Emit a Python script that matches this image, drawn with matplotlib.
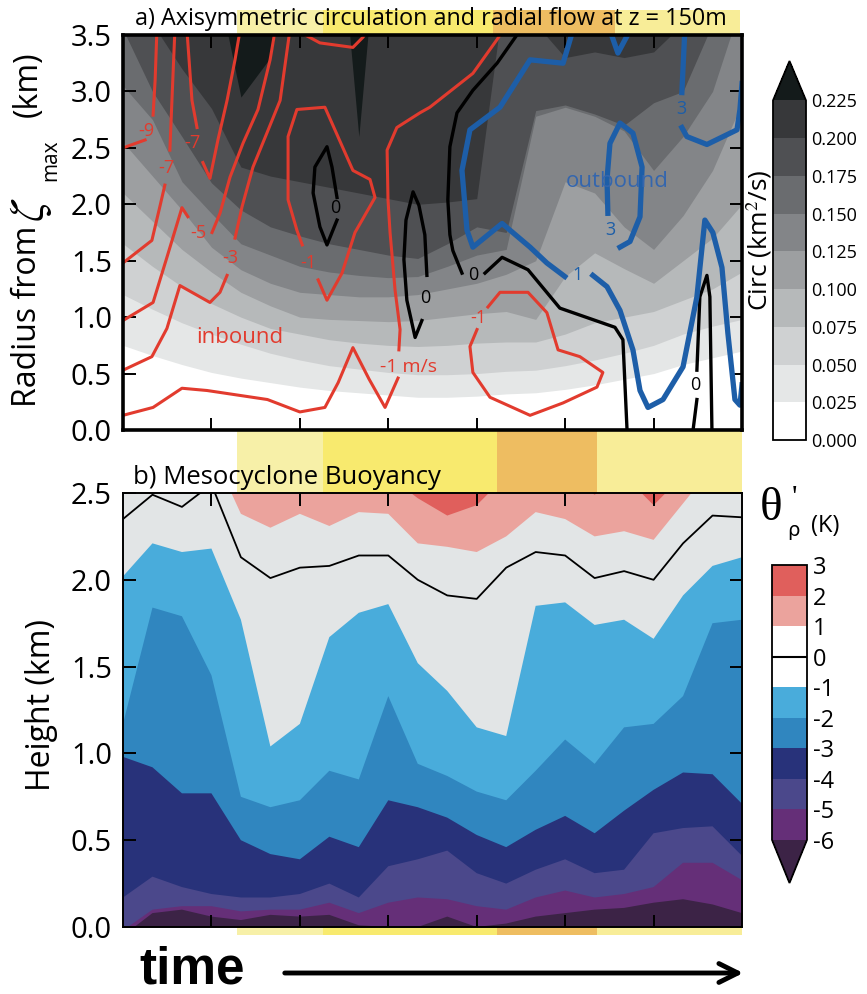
import numpy as np
import matplotlib
matplotlib.use("Agg")
import matplotlib.pyplot as plt
from matplotlib.colors import ListedColormap, BoundaryNorm
from matplotlib.cm import ScalarMappable
from matplotlib.patches import Rectangle, FancyArrowPatch

plt.rcParams['font.family'] = ['Open Sans', 'DejaVu Sans']
plt.rcParams['mathtext.fontset'] = 'stix'

# ---------------- data ----------------
time = np.arange(22)            # output times (3 per tick)
time_ticks = [3, 6, 9, 12, 15, 18]

# a) radius (km) where the axisymmetric circulation crosses each level
circ_levels = [0.0, 0.025, 0.05, 0.075, 0.1, 0.125, 0.15, 0.175, 0.2, 0.225]
circ_025 = [0.75, 0.66, 0.58, 0.51, 0.46, 0.42, 0.38, 0.35, 0.33, 0.31, 0.29, 0.29, 0.30, 0.32, 0.33, 0.36, 0.40, 0.45, 0.50, 0.58, 0.64, 0.70]
circ_050 = [1.20, 1.07, 0.95, 0.85, 0.76, 0.68, 0.62, 0.57, 0.54, 0.51, 0.49, 0.49, 0.50, 0.52, 0.53, 0.57, 0.62, 0.68, 0.75, 0.85, 0.92, 0.98]
circ_075 = [1.65, 1.45, 1.27, 1.12, 1.00, 0.90, 0.85, 0.80, 0.77, 0.75, 0.74, 0.75, 0.77, 0.78, 0.78, 0.85, 0.95, 1.00, 1.05, 1.15, 1.25, 1.40]
circ_100 = [2.10, 1.85, 1.60, 1.40, 1.22, 1.10, 1.00, 0.98, 0.97, 0.96, 0.97, 1.00, 1.03, 1.05, 0.98, 1.36, 1.57, 1.43, 1.30, 1.50, 1.70, 2.00]
circ_125 = [2.55, 2.25, 1.95, 1.62, 1.42, 1.30, 1.22, 1.20, 1.18, 1.18, 1.20, 1.25, 1.30, 1.38, 1.50, 2.20, 2.10, 1.80, 1.60, 1.90, 2.30, 2.90]
circ_150 = [3.05, 2.75, 2.20, 1.92, 1.65, 1.55, 1.45, 1.40, 1.37, 1.35, 1.36, 1.45, 1.55, 1.60, 2.78, 2.86, 2.78, 2.65, 2.30, 2.60, 3.00, 3.80]
circ_175 = [3.55, 3.00, 2.60, 2.19, 1.95, 1.80, 1.72, 1.65, 1.60, 1.55, 1.52, 1.65, 1.80, 1.75, 2.83, 2.88, 2.80, 2.70, 2.90, 3.00, 3.60, 4.20]
circ_200 = [4.00, 3.60, 3.20, 2.85, 2.33, 2.25, 2.20, 2.15, 2.10, 2.05, 2.00, 2.02, 2.05, 4.00, 3.60, 3.30, 3.35, 3.30, 3.35, 3.60, 4.00, 4.50]
circ_225 = [5.0, 5.0, 5.0, 4.2, 2.95, 3.3, 4.5, 5.5, 2.6, 5.5, 5.0, 5.0, 5.0, 5.0, 5.0, 5.0, 5.0, 5.0, 5.0, 5.0, 5.0, 5.0]
circ_colors = ['#ffffff', '#e5e7e7', '#cfd1d2', '#b6b9ba', '#9d9fa1', '#838588',
               '#6a6c6f', '#4f5053', '#37383a', '#141b1b']

# a) radial flow contours (time step, radius km), drawn as traced lines
vr_m9_a = ([0.0, 0.75], [2.50, 2.57])
vr_m9_b = ([1.02, 1.09, 1.15], [2.79, 3.10, 3.54])
vr_m7_a = ([1.59, 1.66, 1.76], [2.48, 2.92, 3.54])
vr_m7_b = ([1.42, 1.26, 0.98, 0.0], [2.17, 1.99, 1.68, 1.48])
vr_m7_c = ([2.17, 2.34, 2.51], [3.54, 2.92, 2.68])
vr_m7_d = ([2.71, 2.95, 3.22, 3.53, 3.80, 3.97], [2.37, 2.23, 2.57, 2.92, 3.28, 3.54])
vr_m5_a = ([0.0, 1.02, 1.49, 2.0, 2.2], [0.97, 1.13, 1.53, 1.97, 1.89])
vr_m5_b = ([3.02, 3.29, 3.63, 4.07, 4.58, 4.99, 5.16], [1.75, 1.92, 2.24, 2.54, 2.84, 3.28, 3.54])
vr_m3_a = ([0.0, 0.98, 1.49, 1.93, 2.95, 3.29, 3.53], [0.53, 0.65, 0.90, 1.28, 1.13, 1.22, 1.37])
vr_m3_b = ([3.80, 4.04, 4.41, 4.88, 5.33, 5.66], [1.70, 1.98, 2.33, 2.63, 2.92, 3.54])
vr_m1_loop = ([6.08, 5.90, 5.60, 5.60, 5.90, 6.85, 7.80, 8.38, 8.55, 7.87, 7.43, 6.92, 6.62],
              [1.64, 1.77, 2.04, 2.60, 2.84, 2.86, 2.30, 2.22, 2.06, 1.75, 1.39, 1.15, 1.33])
vr_m1_top = ([5.90, 6.68, 7.80, 8.14, 8.30], [3.54, 3.43, 3.39, 3.48, 3.54])
vr_m1_a = ([12.89, 12.69, 11.87, 10.41, 10.07, 9.29, 8.96, 8.99, 9.06, 9.23, 9.40, 9.36],
           [3.54, 3.46, 3.16, 2.86, 2.81, 2.68, 2.48, 2.04, 1.75, 1.24, 0.89, 0.71])
vr_m1_b = ([9.33, 8.89, 8.35, 7.80, 7.30, 6.85, 6.00, 4.90, 2.85, 2.0, 1.02, 0.0],
           [0.46, 0.20, 0.45, 0.73, 0.42, 0.20, 0.16, 0.27, 0.35, 0.37, 0.20, 0.13])
vr_m1_c = ([12.38, 12.79, 13.74, 14.38, 14.76, 15.50, 16.28, 16.08, 14.93, 13.81, 12.45, 11.87, 11.77, 12.01],
           [1.09, 1.22, 1.22, 1.04, 0.71, 0.65, 0.51, 0.38, 0.24, 0.13, 0.29, 0.51, 0.74, 0.89])
vr_0_a = ([7.26, 7.12, 6.92, 6.68, 6.45, 6.51, 6.92, 7.09, 7.26], [1.86, 1.77, 1.64, 1.80, 2.10, 2.33, 2.51, 2.33, 2.06])
vr_0_b = ([10.31, 10.24, 10.04, 9.84, 9.60, 9.53, 9.63, 9.91, 10.14], [1.37, 1.73, 1.99, 2.11, 1.86, 1.51, 1.15, 0.82, 0.97])
vr_0_c = ([13.47, 12.69, 11.87, 11.33, 11.09, 11.02, 11.09, 11.19, 11.50], [3.54, 3.25, 3.01, 2.81, 2.51, 2.04, 1.73, 1.59, 1.39])
vr_0_d = ([12.28, 12.86, 13.74, 14.82, 16.69, 16.96, 17.10], [1.39, 1.53, 1.42, 1.08, 0.91, 0.80, 0.0])
vr_0_e = ([19.34, 19.47], [0.0, 0.27])
vr_0_f = ([19.47, 19.57, 19.81, 19.91, 19.98], [0.53, 1.18, 1.37, 1.18, 0.0])
vr_p1_a = ([15.26, 14.93, 13.81, 12.79, 11.77, 11.50, 11.67, 11.87, 12.86, 13.81, 14.38, 14.99],
           [3.54, 3.25, 3.28, 2.86, 2.66, 2.30, 1.77, 1.62, 1.83, 1.62, 1.48, 1.36])
vr_p1_b = ([15.94, 16.42, 16.86, 17.30, 17.54, 17.81, 18.32, 19.00, 19.47, 19.74, 20.01, 20.32, 20.52, 20.76, 20.93, 21.0],
           [1.37, 1.27, 1.06, 0.71, 0.35, 0.20, 0.27, 0.56, 1.18, 1.86, 1.75, 1.44, 0.86, 0.27, 0.22, 0.40])
vr_p3_loop = ([16.86, 17.20, 17.54, 17.61, 17.30, 16.86, 16.52, 16.42, 16.45], [1.62, 1.67, 1.89, 2.33, 2.63, 2.72, 2.54, 2.22, 1.92])
vr_p3_a = ([19.06, 18.96], [3.54, 2.99])
vr_p3_b = ([18.96, 19.13, 19.81, 20.83, 20.93, 21.0], [2.68, 2.60, 2.53, 2.66, 2.84, 3.07])
vr_p3_top = ([16.52, 16.79, 17.20], [3.54, 3.34, 3.54])

red_lines = [vr_m9_a, vr_m9_b, vr_m7_a, vr_m7_b, vr_m7_c, vr_m7_d, vr_m5_a, vr_m5_b,
             vr_m3_a, vr_m3_b, vr_m1_loop, vr_m1_top, vr_m1_a, vr_m1_b, vr_m1_c]
black_lines = [vr_0_a, vr_0_b, vr_0_c, vr_0_d, vr_0_e, vr_0_f]
blue_lines = [vr_p1_a, vr_p1_b, vr_p3_loop, vr_p3_a, vr_p3_b, vr_p3_top]

red_labels = [(0.78, 2.65, '-9'), (1.46, 2.32, '-7'), (2.37, 2.54, '-7'), (2.54, 1.75, '-5'),
              (3.63, 1.52, '-3'), (6.30, 1.48, '-1'), (12.04, 0.99, '-1')]
black_labels = [(7.19, 1.97, '0'), (10.24, 1.17, '0'), (11.87, 1.37, '0'), (19.40, 0.40, '0')]
blue_labels = [(15.43, 1.37, '1'), (16.52, 1.77, '3'), (18.96, 2.84, '3')]

# b) height (km) of each theta_rho' contour
theta_levels = [-6, -5, -4, -3, -2, -1, 0, 1, 2, 3]
theta_m6 = [-0.05, 0.08, 0.10, 0.06, 0.04, 0.07, 0.06, 0.07, 0.01, 0.0, 0.0, 0.06, 0.0, 0.02, 0.06, 0.08, 0.10, 0.11, 0.14, 0.16, 0.13, 0.08]
theta_m5 = [-0.02, 0.10, 0.12, 0.12, 0.09, 0.10, 0.10, 0.14, 0.08, 0.14, 0.17, 0.16, 0.12, 0.10, 0.17, 0.21, 0.17, 0.19, 0.23, 0.37, 0.37, 0.27]
theta_m4 = [0.17, 0.29, 0.23, 0.19, 0.17, 0.17, 0.19, 0.25, 0.17, 0.35, 0.39, 0.44, 0.31, 0.25, 0.33, 0.39, 0.31, 0.33, 0.54, 0.57, 0.58, 0.41]
theta_m3 = [0.98, 0.92, 0.77, 0.77, 0.50, 0.42, 0.39, 0.52, 0.46, 0.73, 0.69, 0.63, 0.53, 0.46, 0.56, 0.64, 0.54, 0.67, 0.79, 0.89, 0.88, 0.71]
theta_m2 = [1.17, 1.84, 1.79, 1.45, 0.75, 0.69, 0.73, 0.90, 0.85, 1.33, 0.94, 0.87, 0.78, 0.73, 0.90, 1.08, 0.94, 1.15, 1.17, 1.33, 1.75, 1.77]
theta_m1 = [2.02, 2.21, 2.16, 2.18, 1.77, 1.04, 1.17, 1.67, 1.81, 1.86, 1.52, 1.36, 1.15, 1.10, 1.85, 1.87, 1.74, 1.77, 1.66, 1.91, 2.08, 2.13]
theta_0 = [2.35, 2.49, 2.42, 2.55, 2.13, 2.01, 2.07, 2.08, 2.14, 2.14, 2.00, 1.91, 1.89, 2.07, 2.16, 2.14, 2.01, 2.05, 2.00, 2.21, 2.37, 2.36]
theta_1 = [2.70, 2.70, 2.70, 2.75, 2.38, 2.30, 2.38, 2.31, 2.39, 2.38, 2.21, 2.19, 2.16, 2.25, 2.39, 2.35, 2.25, 2.28, 2.23, 2.44, 2.65, 2.70]
theta_2 = [2.8, 2.8, 2.8, 2.8, 2.8, 2.8, 2.8, 2.8, 2.8, 2.6, 2.47, 2.37, 2.43, 2.6, 2.7, 2.6, 2.49, 2.6, 2.43, 2.6, 2.8, 2.8]
theta_colors = ['#3c2346', '#652f78', '#4b488b', '#28327a', '#3086bf', '#49acdb',
                '#e2e5e6', '#e2e5e6', '#eba39d', '#e05f5c']
theta_cbar_colors = ['#652f78', '#4b488b', '#28327a', '#3086bf', '#49acdb',
                     '#ffffff', '#ffffff', '#eba39d', '#e05f5c']

# shaded time periods behind the panels (pixel columns)
band_top = [(237, 323, '#f7f0a8'), (323, 493, '#f8ea6e'), (493, 615, '#eebd61'), (615, 740, '#f8ed98')]
band_low = [(237, 323, '#f7f0a8'), (323, 497, '#f8ea6e'), (497, 597, '#eebd61'), (597, 742, '#f8ed98')]

RED = '#e23b2e'
BLUE = '#1d5ea8'

# ---------------- figure ----------------
W, H = 867, 994
fig = plt.figure(figsize=(W / 100, H / 100), dpi=100)


def fx(px):
    return px / W


def fy(py):
    return 1 - py / H


for x0, x1, c in band_top:
    fig.add_artist(Rectangle((fx(x0), fy(36)), (x1 - x0) / W, 26 / H,
                             transform=fig.transFigure, color=c, lw=0, zorder=-2))
for x0, x1, c in band_low:
    fig.add_artist(Rectangle((fx(x0), fy(935)), (x1 - x0) / W, 506 / H,
                             transform=fig.transFigure, color=c, lw=0, zorder=-2))

ax_a = fig.add_axes([fx(123), fy(430), 619 / W, 395 / H])
ax_b = fig.add_axes([fx(123), fy(927), 619 / W, 434 / H])

# panel a shading
circ_edges = [circ_025, circ_050, circ_075, circ_100, circ_125, circ_150, circ_175, circ_200, circ_225]
ax_a.fill_between(time, -1, 9, color=circ_colors[0], lw=0, zorder=1)
for edge, c in zip(circ_edges, circ_colors[1:]):
    ax_a.fill_between(time, edge, 9, color=c, lw=0, zorder=1)

for t, r in red_lines:
    ax_a.plot(t, r, color=RED, lw=2.2, zorder=3, solid_joinstyle='round')
for t, r in black_lines:
    ax_a.plot(t, r, color='black', lw=2.4, zorder=3, solid_joinstyle='round')
for t, r in blue_lines:
    ax_a.plot(t, r, color=BLUE, lw=3.8, zorder=3, solid_joinstyle='round')

for t, r, s in red_labels:
    ax_a.text(t, r, s, color=RED, fontsize=13, ha='center', va='center', zorder=4)
for t, r, s in black_labels:
    ax_a.text(t, r, s, color='black', fontsize=13, ha='center', va='center', zorder=4)
for t, r, s in blue_labels:
    ax_a.text(t, r, s, color=BLUE, fontsize=13, ha='center', va='center', zorder=4)
ax_a.text(8.72, 0.56, '-1 m/s', color=RED, fontsize=14, ha='left', va='center', zorder=4)
ax_a.text(3.97, 0.82, 'inbound', color=RED, fontsize=16, ha='center', va='center', zorder=4)
ax_a.text(16.76, 2.20, 'outbound', color='#3466ae', fontsize=16, ha='center', va='center', zorder=4)

ax_a.set_xlim(0, 21)
ax_a.set_ylim(0, 3.5)
ax_a.set_yticks(np.arange(0, 3.51, 0.5))
ax_a.set_yticklabels([f'{v:.1f}' for v in np.arange(0, 3.51, 0.5)])
for s in ax_a.spines.values():
    s.set_linewidth(2.6)
    s.set_zorder(5)

# panel b shading
theta_edges = [theta_m6, theta_m5, theta_m4, theta_m3, theta_m2, theta_m1, theta_0, theta_1, theta_2]
ax_b.fill_between(time, -1, 9, color=theta_colors[0], lw=0, zorder=1)
for edge, c in zip(theta_edges, theta_colors[1:]):
    ax_b.fill_between(time, edge, 9, color=c, lw=0, zorder=1)
ax_b.plot(time, theta_0, color='black', lw=1.3, zorder=3)

ax_b.set_xlim(0, 21)
ax_b.set_ylim(0, 2.5)
ax_b.set_yticks(np.arange(0, 2.51, 0.5))
ax_b.set_yticklabels([f'{v:.1f}' for v in np.arange(0, 2.51, 0.5)])
for s in ax_b.spines.values():
    s.set_linewidth(1.4)
    s.set_zorder(5)

for ax in (ax_a, ax_b):
    ax.set_xticks(time_ticks)
    ax.set_xticklabels([])
    ax.tick_params(direction='in', top=True, right=True, length=9, width=1.4,
                   labelsize=21, pad=8)

# titles and axis labels
fig.text(fx(135), fy(19), 'a) Axisymmetric circulation and radial flow at z = 150m',
         fontsize=16.8, ha='left', va='center')
fig.text(fx(133), fy(478), 'b) Mesocyclone Buoyancy', fontsize=18.5, ha='left', va='center')

fig.text(fx(28), fy(316), 'Radius from', rotation=90, fontsize=23, ha='center', va='center')
fig.text(fx(30), fy(210), r'$\zeta$', rotation=90, fontsize=34, ha='center', va='center')
fig.text(fx(51), fy(160), 'max', rotation=90, fontsize=15, ha='center', va='center')
fig.text(fx(28), fy(84), '(km)', rotation=90, fontsize=23, ha='center', va='center')
fig.text(fx(42), fy(705), 'Height (km)', rotation=90, fontsize=23, ha='center', va='center')

# colorbar a
cax_a = fig.add_axes([fx(773), fy(440), 33 / W, 379 / H])
cmap_a = ListedColormap(circ_colors[:-1])
cmap_a.set_over(circ_colors[-1])
cb_a = fig.colorbar(ScalarMappable(BoundaryNorm(circ_levels, cmap_a.N), cmap_a), cax=cax_a,
                    extend='max', extendfrac=0.116, ticks=circ_levels)
cb_a.ax.set_yticklabels([f'{v:.3f}' for v in circ_levels])
cb_a.ax.tick_params(length=0, labelsize=13, pad=4)
cb_a.outline.set_linewidth(1.3)
fig.text(fx(759), fy(240), 'Circ (km$^2$/s)', rotation=90, fontsize=19, ha='center', va='center')

# colorbar b
cax_b = fig.add_axes([fx(772), fy(883), 35 / W, 318 / H])
cmap_b = ListedColormap(theta_cbar_colors)
cmap_b.set_under(theta_colors[0])
cb_b = fig.colorbar(ScalarMappable(BoundaryNorm(theta_levels, cmap_b.N), cmap_b), cax=cax_b,
                    extend='min', extendfrac=0.157, ticks=theta_levels)
cb_b.ax.set_yticklabels([str(v) for v in theta_levels])
cb_b.ax.tick_params(length=0, labelsize=17, pad=4)
cb_b.ax.axhline(0, color='black', lw=1.5)
cb_b.outline.set_linewidth(1.3)

fig.text(fx(771), fy(509), '\u03b8', family='Liberation Serif', fontsize=34, ha='center', va='center')
fig.text(fx(794), fy(500), "'", family='Liberation Serif', fontsize=22, ha='center', va='center')
fig.text(fx(793), fy(530), '\u03c1', family='DejaVu Sans', fontsize=14, ha='center', va='center')
fig.text(fx(825), fy(526), '(K)', fontsize=17, ha='center', va='center')

# time arrow
fig.text(fx(139), fy(970), 'time', family='Liberation Sans', fontweight='bold',
         fontsize=37, ha='left', va='center')
fig.add_artist(FancyArrowPatch((fx(282), fy(973)), (fx(746), fy(973)),
                               transform=fig.transFigure, arrowstyle='->',
                               mutation_scale=34, lw=3.5, color='black'))

fig.savefig('out.png', dpi=100)
